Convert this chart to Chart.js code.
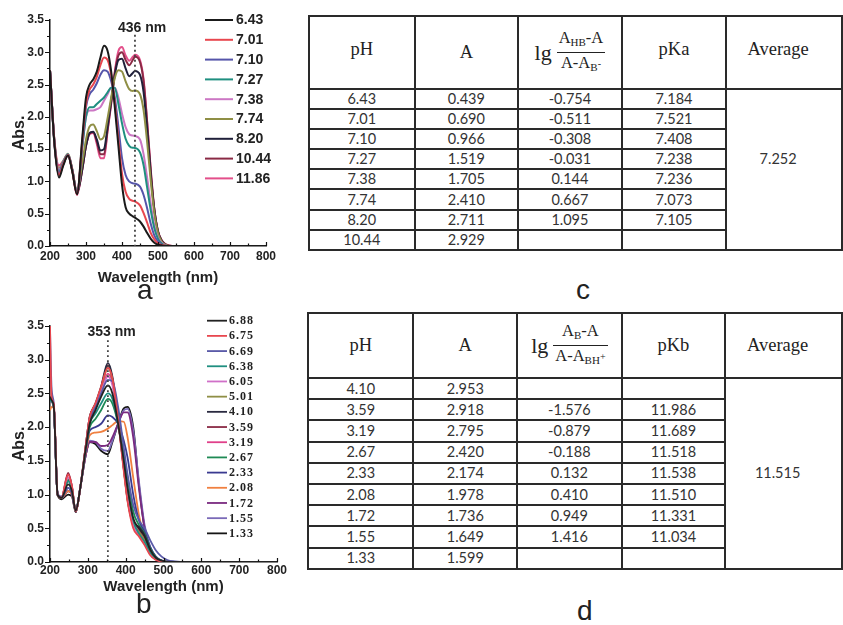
<!DOCTYPE html>
<html>
<head>
<meta charset="utf-8">
<script src="https://cdn.jsdelivr.net/npm/chart.js@4.4.1/dist/chart.umd.min.js"></script>
<style>
  html, body { margin: 0; padding: 0; background: #fff; }
  body { position: relative; width: 843px; height: 625px; overflow: hidden; }
  canvas { position: absolute; }
  .panel { position: absolute; font: 28px "Liberation Sans", Arial, sans-serif; line-height: 28px; color: #222; }
  table.data { position: absolute; border-collapse: collapse; table-layout: fixed; color: #333; }
  table.data td, table.data th { border: 2px solid #2a2a2a; padding: 0; text-align: center; vertical-align: middle;
    font: 14.5px Lato, "Liberation Sans", sans-serif; line-height: 16px; }
  table.data th { font: 18.5px "Liberation Serif", "Times New Roman", serif; color: #222; }
  .lg { font-size: 22px; vertical-align: middle; margin-right: 5px; }
  .frac { display: inline-block; vertical-align: middle; font-size: 16.5px; line-height: 18px; }
  .frac .num { display: block; border-bottom: 1.5px solid #222; padding: 0 2px 1px; }
  .frac .den { display: block; padding: 1px 2px 0; }
  .frac sub { font-size: 11px; vertical-align: -3px; }
  .frac sup { font-size: 10px; vertical-align: 4px; }
</style>
</head>
<body>
<canvas id="specA" width="282" height="291" style="left:0;top:0"></canvas>
<canvas id="specB" width="290" height="300" style="left:0;top:300px"></canvas>

<table class="data" id="tblC" style="left:308px;top:15px">
  <colgroup><col style="width:106px"><col style="width:104px"><col style="width:104px"><col style="width:105px"><col style="width:116px"></colgroup>
  <thead><tr style="height:73px">
    <th style="padding-bottom:6px">pH</th><th>A</th>
    <th><span class="lg">lg</span><span class="frac"><span class="num">A<sub>HB</sub>-A</span><span class="den">A-A<sub>B<sup>-</sup></sub></span></span></th>
    <th style="padding-bottom:6px">pKa</th><th style="padding:0 12px 6px 0">Average</th>
  </tr></thead>
  <tbody id="bodyC"></tbody>
</table>

<table class="data" id="tblD" style="left:307px;top:312px">
  <colgroup><col style="width:106px"><col style="width:104px"><col style="width:105px"><col style="width:104px"><col style="width:117px"></colgroup>
  <thead><tr style="height:65px">
    <th>pH</th><th>A</th>
    <th><span class="lg">lg</span><span class="frac"><span class="num">A<sub>B</sub>-A</span><span class="den">A-A<sub>BH<sup>+</sup></sub></span></span></th>
    <th>pKb</th><th style="padding-right:12px">Average</th>
  </tr></thead>
  <tbody id="bodyD"></tbody>
</table>

<div class="panel" style="left:137px;top:276px">a</div>
<div class="panel" style="left:136px;top:590px">b</div>
<div class="panel" style="left:576px;top:276px">c</div>
<div class="panel" style="left:577px;top:597px">d</div>

<script>
// ---- spectra, panel a (pH 6.43 - 11.86) ----
const wavelengthA = [200, 212, 225, 237, 250, 262, 275, 290, 300, 310, 320, 330, 340, 350, 360, 370, 380, 390,
  400, 410, 420, 430, 436, 450, 460, 470, 480, 490, 500, 510, 520, 530, 550, 600, 800];
const labelsA = ['6.43', '7.01', '7.10', '7.27', '7.38', '7.74', '8.20', '10.44', '11.86'];
const colorsA = ['#1a1a1a', '#e8474f', '#5555aa', '#1f8f80', '#cc77c4', '#8f8f45', '#20203a', '#8a2a45', '#e34f8a'];
const absA_643 = [2.72, 1.6, 1.06, 1.25, 1.4, 1.15, 0.8, 1.7, 2.3, 2.5, 2.58, 2.7, 2.92, 3.1, 3.02, 2.7, 2.15, 1.55,
  0.95, 0.6, 0.5, 0.46, 0.439, 0.38, 0.3, 0.2, 0.11, 0.05, 0.02, 0.01, 0, 0, 0, 0, 0];
const absA_701 = [2.72, 1.62, 1.1, 1.27, 1.41, 1.16, 0.8, 1.65, 2.2, 2.42, 2.5, 2.62, 2.8, 2.92, 2.88, 2.65, 2.22, 1.65,
  1.12, 0.84, 0.73, 0.7, 0.69, 0.63, 0.51, 0.36, 0.2, 0.1, 0.04, 0.015, 0.005, 0, 0, 0, 0];
const absA_710 = [2.72, 1.62, 1.13, 1.28, 1.41, 1.17, 0.81, 1.6, 2.15, 2.35, 2.42, 2.52, 2.65, 2.72, 2.7, 2.55, 2.3, 1.85,
  1.36, 1.1, 1.0, 0.97, 0.966, 0.92, 0.79, 0.58, 0.34, 0.16, 0.07, 0.02, 0.005, 0, 0, 0, 0];
const absA_727 = [2.72, 1.63, 1.15, 1.3, 1.42, 1.18, 0.82, 1.55, 2.0, 2.15, 2.15, 2.2, 2.25, 2.3, 2.38, 2.45, 2.45, 2.2,
  1.9, 1.66, 1.55, 1.52, 1.519, 1.45, 1.25, 0.9, 0.55, 0.27, 0.11, 0.04, 0.01, 0, 0, 0, 0];
const absA_738 = [2.72, 1.64, 1.18, 1.31, 1.42, 1.18, 0.82, 1.55, 2.0, 2.1, 2.1, 2.12, 2.15, 2.25, 2.35, 2.45, 2.45, 2.3,
  2.05, 1.84, 1.73, 1.71, 1.705, 1.65, 1.42, 1.05, 0.65, 0.32, 0.13, 0.05, 0.01, 0, 0, 0, 0];
const absA_774 = [2.72, 1.65, 1.2, 1.32, 1.43, 1.19, 0.84, 1.3, 1.65, 1.85, 1.88, 1.78, 1.65, 1.7, 1.98, 2.3, 2.6, 2.72,
  2.7, 2.55, 2.43, 2.4, 2.41, 2.35, 2.1, 1.6, 1.0, 0.5, 0.2, 0.07, 0.02, 0, 0, 0, 0];
const absA_820 = [2.72, 1.6, 1.1, 1.27, 1.4, 1.17, 0.82, 1.2, 1.55, 1.75, 1.77, 1.65, 1.48, 1.5, 1.85, 2.25, 2.65, 2.88,
  2.9, 2.75, 2.63, 2.68, 2.711, 2.65, 2.38, 1.8, 1.1, 0.55, 0.22, 0.08, 0.02, 0, 0, 0, 0];
const absA_1044 = [2.72, 1.63, 1.2, 1.3, 1.4, 1.17, 0.82, 1.2, 1.55, 1.75, 1.76, 1.62, 1.42, 1.42, 1.8, 2.22, 2.68, 2.95,
  3.0, 2.88, 2.8, 2.88, 2.929, 2.85, 2.55, 1.9, 1.15, 0.56, 0.23, 0.09, 0.03, 0.01, 0, 0, 0];
const absA_1186 = [2.72, 1.66, 1.25, 1.32, 1.42, 1.18, 0.79, 1.2, 1.55, 1.73, 1.75, 1.58, 1.36, 1.36, 1.78, 2.2, 2.7, 3.02,
  3.08, 2.95, 2.87, 2.93, 2.96, 2.88, 2.58, 1.92, 1.18, 0.56, 0.23, 0.09, 0.03, 0.01, 0, 0, 0];
const seriesA = [absA_643, absA_701, absA_710, absA_727, absA_738, absA_774, absA_820, absA_1044, absA_1186];

// ---- spectra, panel b (pH 6.88 - 1.33) ----
const wavelengthB = [200, 204, 210, 220, 230, 248, 258, 268, 280, 295, 305, 320, 335, 353, 365, 380, 395, 405,
  420, 435, 450, 465, 480, 495, 510, 530, 560, 600, 800];
const labelsB = ['6.88', '6.75', '6.69', '6.38', '6.05', '5.01', '4.10', '3.59', '3.19', '2.67', '2.33', '2.08', '1.72', '1.55', '1.33'];
const colorsB = ['#222222', '#e8474f', '#5a5aa8', '#1f8f80', '#d070c8', '#8f8f45', '#2a2a40', '#8a2a45', '#e0408a',
  '#1f8a55', '#3a3a90', '#f08040', '#7a2a80', '#7a6ab8', '#151515'];
const absB_688 = [2.45, 2.4, 2.3, 1.0, 0.95, 1.15, 1.05, 0.76, 1.1, 1.7, 2.05, 2.25, 2.45, 2.62, 2.5, 2.05, 1.5, 1.1,
  0.65, 0.5, 0.38, 0.18, 0.06, 0.02, 0.005, 0, 0, 0, 0];
const absB_675 = [3.5, 2.45, 2.35, 1.0, 0.95, 1.3, 1.12, 0.75, 1.1, 1.75, 2.15, 2.35, 2.6, 2.88, 2.72, 2.1, 1.35, 0.9,
  0.5, 0.38, 0.25, 0.1, 0.03, 0.01, 0, 0, 0, 0, 0];
const absB_669 = [3.45, 2.6, 2.35, 1.02, 0.97, 1.1, 1.02, 0.77, 1.1, 1.7, 2.1, 2.3, 2.5, 2.7, 2.68, 2.3, 1.7, 1.3,
  0.85, 0.62, 0.5, 0.32, 0.17, 0.08, 0.03, 0.01, 0, 0, 0];
const absB_638 = [2.4, 2.38, 2.3, 1.0, 0.95, 1.2, 1.08, 0.76, 1.1, 1.7, 2.05, 2.2, 2.35, 2.5, 2.42, 2.05, 1.5, 1.1,
  0.62, 0.42, 0.3, 0.14, 0.05, 0.01, 0, 0, 0, 0, 0];
const absB_605 = [2.4, 2.38, 2.3, 1.0, 0.95, 1.25, 1.1, 0.75, 1.1, 1.72, 2.12, 2.3, 2.52, 2.75, 2.62, 2.1, 1.4, 0.95,
  0.55, 0.4, 0.28, 0.12, 0.04, 0.01, 0, 0, 0, 0, 0];
const absB_501 = [2.4, 2.38, 2.3, 1.0, 0.95, 1.25, 1.1, 0.75, 1.1, 1.72, 2.12, 2.32, 2.56, 2.88, 2.7, 2.12, 1.38, 0.92,
  0.55, 0.45, 0.32, 0.14, 0.05, 0.01, 0, 0, 0, 0, 0];
const absB_410 = [2.4, 2.38, 2.3, 1.0, 0.95, 1.2, 1.08, 0.74, 1.1, 1.75, 2.15, 2.35, 2.6, 2.953, 2.75, 2.15, 1.4, 0.95,
  0.6, 0.52, 0.4, 0.18, 0.06, 0.02, 0, 0, 0, 0, 0];
const absB_359 = [2.4, 2.38, 2.3, 1.0, 0.95, 1.32, 1.12, 0.74, 1.1, 1.75, 2.15, 2.33, 2.58, 2.918, 2.72, 2.12, 1.38, 0.92,
  0.55, 0.45, 0.32, 0.14, 0.05, 0.01, 0, 0, 0, 0, 0];
const absB_319 = [2.4, 2.38, 2.3, 1.0, 0.95, 1.3, 1.12, 0.75, 1.1, 1.72, 2.1, 2.28, 2.5, 2.795, 2.65, 2.1, 1.42, 1.0,
  0.62, 0.48, 0.33, 0.14, 0.05, 0.01, 0, 0, 0, 0, 0];
const absB_267 = [2.4, 2.38, 2.3, 1.0, 0.95, 1.22, 1.1, 0.76, 1.1, 1.7, 2.0, 2.12, 2.25, 2.42, 2.35, 2.05, 1.6, 1.25,
  0.75, 0.55, 0.42, 0.2, 0.07, 0.02, 0, 0, 0, 0, 0];
const absB_233 = [2.4, 2.38, 2.3, 1.0, 0.95, 1.1, 1.02, 0.76, 1.1, 1.68, 1.95, 2.0, 2.05, 2.174, 2.15, 2.05, 1.8, 1.55,
  1.0, 0.62, 0.45, 0.22, 0.08, 0.02, 0, 0, 0, 0, 0];
const absB_208 = [2.25, 2.3, 2.28, 1.0, 0.95, 1.05, 1.0, 0.76, 1.1, 1.65, 1.88, 1.92, 1.93, 1.978, 2.03, 2.09, 2.08, 1.85,
  1.25, 0.7, 0.35, 0.15, 0.05, 0.01, 0, 0, 0, 0, 0];
const absB_172 = [2.4, 2.38, 2.3, 1.0, 0.95, 1.05, 1.0, 0.76, 1.1, 1.6, 1.78, 1.78, 1.72, 1.736, 1.85, 2.05, 2.22, 2.22,
  1.85, 1.1, 0.5, 0.18, 0.05, 0.01, 0, 0, 0, 0, 0];
const absB_155 = [2.4, 2.38, 2.3, 1.0, 0.95, 1.05, 1.0, 0.76, 1.1, 1.6, 1.8, 1.78, 1.68, 1.649, 1.8, 2.05, 2.25, 2.27,
  1.95, 1.2, 0.55, 0.22, 0.07, 0.02, 0, 0, 0, 0, 0];
const absB_133 = [2.45, 2.4, 2.3, 1.0, 0.93, 1.0, 0.97, 0.74, 1.1, 1.6, 1.78, 1.75, 1.65, 1.599, 1.78, 2.05, 2.28, 2.3,
  2.0, 1.15, 0.5, 0.13, 0.04, 0.01, 0, 0, 0, 0, 0];
const seriesB = [absB_688, absB_675, absB_669, absB_638, absB_605, absB_501, absB_410, absB_359, absB_319,
  absB_267, absB_233, absB_208, absB_172, absB_155, absB_133];

// ---- table c: pKa at 436 nm ----
const pH_c = ['6.43', '7.01', '7.10', '7.27', '7.38', '7.74', '8.20', '10.44'];
const A_c = ['0.439', '0.690', '0.966', '1.519', '1.705', '2.410', '2.711', '2.929'];
const lg_c = ['-0.754', '-0.511', '-0.308', '-0.031', '0.144', '0.667', '1.095', ''];
const pKa_c = ['7.184', '7.521', '7.408', '7.238', '7.236', '7.073', '7.105', ''];
const avg_c = '7.252';

// ---- table d: pKb at 353 nm ----
const pH_d = ['4.10', '3.59', '3.19', '2.67', '2.33', '2.08', '1.72', '1.55', '1.33'];
const A_d = ['2.953', '2.918', '2.795', '2.420', '2.174', '1.978', '1.736', '1.649', '1.599'];
const lg_d = ['', '-1.576', '-0.879', '-0.188', '0.132', '0.410', '0.949', '1.416', ''];
const pKb_d = ['', '11.986', '11.689', '11.518', '11.538', '11.510', '11.331', '11.034', ''];
const avg_d = '11.515';

const SANS = '"Liberation Sans", Arial, sans-serif';

// major + minor tick marks: x ticks point inward, y ticks outward
const axisTicks = {
  id: 'axisTicks',
  afterDraw(chart) {
    const { ctx, scales: { x, y } } = chart;
    ctx.save();
    ctx.strokeStyle = '#111';
    ctx.lineWidth = 1.2;
    ctx.beginPath();
    for (let v = 200; v <= 800; v += 50) {
      const px = Math.round(x.getPixelForValue(v)) + 0.5;
      const len = v % 100 === 0 ? 4 : 2.5;
      ctx.moveTo(px, y.bottom);
      ctx.lineTo(px, y.bottom - len);
    }
    for (let i = 0; i <= 14; i++) {
      const py = Math.round(y.getPixelForValue(i * 0.25)) + 0.5;
      const len = i % 2 === 0 ? 5 : 3;
      ctx.moveTo(x.left, py);
      ctx.lineTo(x.left - len, py);
    }
    ctx.stroke();
    ctx.restore();
  }
};

// dotted line at the analysis wavelength with its label
const markLine = {
  id: 'markLine',
  afterDatasetsDraw(chart, args, o) {
    const { ctx, scales: { x, y } } = chart;
    const px = x.getPixelForValue(o.at);
    ctx.save();
    ctx.strokeStyle = '#444';
    ctx.lineWidth = 1.8;
    ctx.setLineDash([1.8, 3.2]);
    ctx.beginPath();
    ctx.moveTo(px, y.getPixelForValue(o.top));
    ctx.lineTo(px, y.bottom);
    ctx.stroke();
    ctx.setLineDash([]);
    ctx.fillStyle = '#222';
    ctx.font = 'bold 14px ' + SANS;
    ctx.textAlign = 'center';
    ctx.textBaseline = 'middle';
    ctx.fillText(o.text, x.getPixelForValue(o.textAt), y.getPixelForValue(o.textY));
    ctx.restore();
  }
};

// legend drawn inside the plot, upper right
const innerLegend = {
  id: 'innerLegend',
  afterDraw(chart, args, o) {
    const { ctx } = chart;
    ctx.save();
    ctx.font = o.font;
    if (o.spacing) ctx.letterSpacing = o.spacing;
    ctx.textBaseline = 'middle';
    chart.data.datasets.forEach((ds, i) => {
      const yy = o.y + i * o.step;
      ctx.strokeStyle = ds.borderColor;
      ctx.lineWidth = o.lineWidth;
      ctx.beginPath();
      ctx.moveTo(o.x, yy);
      ctx.lineTo(o.x + o.len, yy);
      ctx.stroke();
      ctx.fillStyle = '#222';
      ctx.fillText(ds.label, o.x + o.len + o.gap, yy + 0.5);
    });
    ctx.restore();
  }
};

function buildSpectrum(id, wl, series, labels, colors, cfg) {
  const datasets = series.map((vals, i) => ({
    label: labels[i],
    data: vals.map((v, j) => ({ x: wl[j], y: v })),
    borderColor: colors[i],
    borderWidth: cfg.lineWidth,
    pointRadius: 0,
    cubicInterpolationMode: 'monotone',
    fill: false
  }));
  return new Chart(document.getElementById(id), {
    type: 'line',
    data: { datasets },
    plugins: [axisTicks, markLine, innerLegend],
    options: {
      responsive: false,
      animation: false,
      layout: { padding: { left: 0, top: cfg.padTop, right: cfg.padRight, bottom: 0 } },
      scales: {
        x: {
          type: 'linear', min: 200, max: 800,
          afterFit: s => { s.height = cfg.xHeight; },
          ticks: { stepSize: 100, padding: cfg.xTickPad, color: '#222', font: { family: SANS, size: 12, weight: 'bold' } },
          grid: { display: false, drawTicks: false },
          border: { display: true, color: '#111', width: 1.5 },
          title: { display: true, text: 'Wavelength (nm)', color: '#222',
            font: { family: SANS, size: 15, weight: 'bold' }, padding: { top: 0, bottom: cfg.xTitlePad } }
        },
        y: {
          min: 0, max: 3.5,
          afterFit: s => { s.width = 50; },
          ticks: { stepSize: 0.5, padding: 6, color: '#222', callback: v => v.toFixed(1),
            font: { family: SANS, size: 12, weight: 'bold' } },
          grid: { display: false, drawTicks: false },
          border: { display: true, color: '#111', width: 1.5 },
          title: { display: true, text: 'Abs.', color: '#222',
            font: { family: SANS, size: 16, weight: 'bold' }, padding: { top: 10, bottom: 0 } }
        }
      },
      plugins: {
        legend: { display: false },
        tooltip: { enabled: false },
        markLine: cfg.mark,
        innerLegend: cfg.legend
      }
    }
  });
}

buildSpectrum('specA', wavelengthA, seriesA, labelsA, colorsA, {
  lineWidth: 2, padTop: 20, padRight: 16, xHeight: 45, xTickPad: 3, xTitlePad: 4,
  mark: { at: 436, top: 3.27, text: '436 nm', textAt: 456, textY: 3.38 },
  legend: { x: 205, y: 20, step: 19.8, len: 28, gap: 3, lineWidth: 2, font: 'bold 14px ' + SANS }
});

buildSpectrum('specB', wavelengthB, seriesB, labelsB, colorsB, {
  lineWidth: 1.8, padTop: 26, padRight: 13, xHeight: 38, xTickPad: 1, xTitlePad: 4,
  mark: { at: 353, top: 3.29, text: '353 nm', textAt: 363, textY: 3.41 },
  legend: { x: 207, y: 20.7, step: 15.19, len: 20, gap: 2, lineWidth: 1.8, spacing: '1px',
    font: 'bold 12px "Liberation Serif", "Times New Roman", serif' }
});

function fillTable(bodyId, ph, a, lg, pk, avg, avgPad, rowH) {
  const body = document.getElementById(bodyId);
  ph.forEach((p, i) => {
    const tr = document.createElement('tr');
    tr.style.height = rowH + 'px';
    let html = `<td>${p}</td><td>${a[i]}</td><td>${lg[i]}</td><td>${pk[i]}</td>`;
    if (i === 0) {
      html += `<td rowspan="${ph.length}" style="padding:0 12px ${avgPad}px 0">${avg}</td>`;
    }
    tr.innerHTML = html;
    body.appendChild(tr);
  });
}

fillTable('bodyC', pH_c, A_c, lg_c, pKa_c, avg_c, 20, 20.1);
fillTable('bodyD', pH_d, A_d, lg_d, pKb_d, avg_d, 0, 21.2);
</script>
</body>
</html>
